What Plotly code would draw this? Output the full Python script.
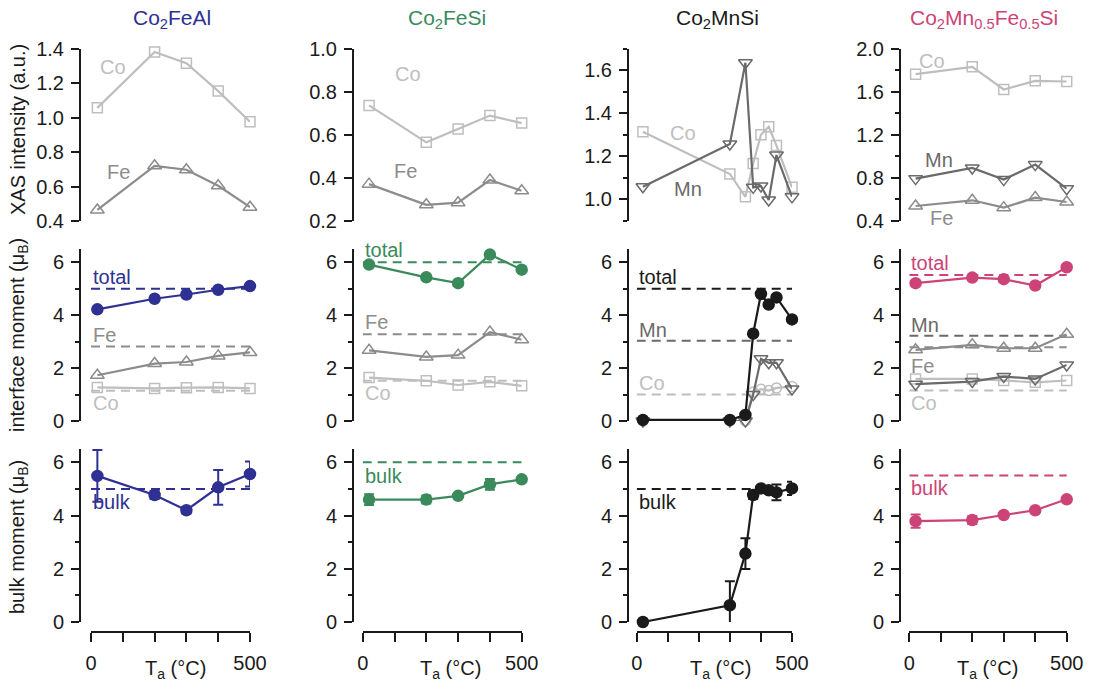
import plotly.graph_objects as go

W, H = 1096, 689

# ---------------- data ----------------
Ta5 = [20, 200, 300, 400, 500]
Ta8 = [20, 300, 350, 375, 400, 425, 450, 500]
ref_x = [0, 510]
x_tickvals = [0, 500]
x_ticktext = ["0", "500"]

# Co2FeAl
xas_co_1 = [1.056, 1.38, 1.315, 1.153, 0.975]
xas_fe_1 = [0.464, 0.72, 0.697, 0.604, 0.48]
tot_1 = [4.22, 4.62, 4.78, 4.96, 5.10]
fe_1 = [1.73, 2.17, 2.23, 2.46, 2.59]
co_1 = [1.27, 1.23, 1.26, 1.27, 1.23]
ref_tot_1, ref_fe_1, ref_co_1 = 5.0, 2.82, 1.14
bulk_1 = [5.49, 4.77, 4.20, 5.06, 5.56]
bulk_err_1 = [0.97, 0.15, 0.12, 0.65, 0.47]
ref_bulk_1 = 5.0

# Co2FeSi
xas_co_2 = [0.736, 0.565, 0.627, 0.689, 0.654]
xas_fe_2 = [0.371, 0.275, 0.285, 0.39, 0.34]
tot_2 = [5.91, 5.43, 5.21, 6.29, 5.72]
fe_2 = [2.67, 2.42, 2.49, 3.36, 3.07]
co_2 = [1.64, 1.52, 1.36, 1.48, 1.33]
ref_tot_2, ref_fe_2, ref_co_2 = 6.0, 3.28, 1.52
bulk_2 = [4.60, 4.60, 4.74, 5.17, 5.36]
bulk_err_2 = [0.2, 0.15, 0.05, 0.2, 0.05]
ref_bulk_2 = 6.0

# Co2MnSi
xas_co_3 = [1.314, 1.118, 1.012, 1.167, 1.30, 1.337, 1.25, 1.056]
xas_mn_3 = [1.059, 1.257, 1.634, 1.056, 1.062, 0.997, 1.206, 1.012]
tot_3 = [0.04, 0.04, 0.23, 3.30, 4.80, 4.40, 4.67, 3.84]
mn_3 = [0.0, 0.0, 0.0, 1.0, 2.35, 2.2, 2.2, 1.21]
co_3 = [0.0, 0.0, 0.0, 1.1, 1.2, 1.15, 1.25, 1.3]
ref_tot_3, ref_mn_3, ref_co_3 = 5.0, 3.03, 1.0
bulk_3 = [0.0, 0.63, 2.57, 4.77, 5.02, 4.95, 4.87, 5.02]
bulk_err_3 = [0.0, 0.9, 0.58, 0.15, 0.08, 0.1, 0.3, 0.25]
ref_bulk_3 = 5.0

# Co2Mn0.5Fe0.5Si
xas_co_4 = [1.762, 1.83, 1.62, 1.70, 1.694]
xas_mn_4 = [0.793, 0.892, 0.784, 0.923, 0.70]
xas_fe_4 = [0.539, 0.592, 0.524, 0.617, 0.576]
tot_4 = [5.21, 5.42, 5.36, 5.12, 5.81]
fe_4 = [2.69, 2.88, 2.75, 2.75, 3.28]
mn_4 = [1.39, 1.49, 1.68, 1.59, 2.12]
co_4 = [1.59, 1.59, 1.53, 1.46, 1.53]
ref_tot_4, ref_mn_4, ref_fe_4, ref_co_4 = 5.52, 3.22, 2.79, 1.15
bulk_4 = [3.79, 3.83, 4.02, 4.20, 4.61]
bulk_err_4 = [0.25, 0.15, 0.05, 0.05, 0.05]
ref_bulk_4 = 5.5

titles = ["Co<sub>2</sub>FeAl", "Co<sub>2</sub>FeSi", "Co<sub>2</sub>MnSi",
          "Co<sub>2</sub>Mn<sub>0.5</sub>Fe<sub>0.5</sub>Si"]

# ---------------- styles ----------------
BLUE, GREEN, BLACK, PINK = "#2E3192", "#3A8A5C", "#1A1A1A", "#CC4477"
col_colors = [BLUE, GREEN, BLACK, PINK]
CO_C, FE_C, MN_C = "#BEBEBE", "#8C8C8C", "#6A6A6A"
FONT = "Arial, Liberation Sans, Helvetica, sans-serif"
TXT = "#1A1A1A"


def px(x):
    return x / W


def py(y):
    return 1 - y / H


# column geometry (pixels): x-domain spans Ta 0..500, y-axis line position
col_x = [(91, 250), (362.7, 521.7), (636.7, 792), (909.3, 1066.7)]
col_yax = [80, 353, 628, 900]
row_y = [(48.5, 221), (249, 421), (449, 622)]
xaxis_line_y = 632

top_ranges = [(0.4, 1.4), (0.2, 1.0), (0.9, 1.7), (0.4, 2.0)]
top_ticks = [
    dict(tick0=0.4, dtick=0.2, minor=None),
    dict(tick0=0.2, dtick=0.2, minor=None),
    dict(tick0=1.0, dtick=0.2, minor=dict(tick0=0.9, dtick=0.2)),
    dict(tick0=0.4, dtick=0.4, minor=dict(tick0=0.4, dtick=0.2)),
]

fig = go.Figure()


def ax_id(row, col):
    k = row * 4 + col + 1
    return ("x" if k == 1 else f"x{k}"), ("y" if k == 1 else f"y{k}")


def line_trace(row, col, x, y, color, symbol, size, err=None):
    xa, ya = ax_id(row, col)
    marker = dict(symbol=symbol, size=size, color=color,
                  line=dict(color=color, width=1.5))
    kw = {}
    if err is not None:
        kw["error_y"] = dict(type="data", array=err, visible=True,
                             color=color, thickness=2, width=5)
    fig.add_trace(go.Scatter(x=x, y=y, mode="lines+markers", xaxis=xa, yaxis=ya,
                             line=dict(color=color, width=2.2), marker=marker,
                             cliponaxis=False, showlegend=False, hoverinfo="skip", **kw))


def ref_trace(row, col, val, color):
    xa, ya = ax_id(row, col)
    fig.add_trace(go.Scatter(x=ref_x, y=[val, val], mode="lines", xaxis=xa, yaxis=ya,
                             line=dict(color=color, width=2, dash="9px,6px"),
                             cliponaxis=False, showlegend=False, hoverinfo="skip"))


def label(row, col, x, y, text, color):
    xa, ya = ax_id(row, col)
    fig.add_annotation(x=x, y=y, xref=xa, yref=ya, text=text, showarrow=False,
                       xanchor="left", yanchor="middle",
                       font=dict(family=FONT, size=20, color=color))


# ---- column 1: Co2FeAl
line_trace(0, 0, Ta5, xas_co_1, CO_C, "square-open", 10)
line_trace(0, 0, Ta5, xas_fe_1, FE_C, "triangle-up-open", 12)
label(0, 0, 22, 1.29, "Co", CO_C)
label(0, 0, 44, 0.685, "Fe", FE_C)
ref_trace(1, 0, ref_tot_1, BLUE)
ref_trace(1, 0, ref_fe_1, FE_C)
ref_trace(1, 0, ref_co_1, CO_C)
line_trace(1, 0, Ta5, co_1, CO_C, "square-open", 10)
line_trace(1, 0, Ta5, fe_1, FE_C, "triangle-up-open", 12)
line_trace(1, 0, Ta5, tot_1, BLUE, "circle", 11)
label(1, 0, 0, 5.43, "total", BLUE)
label(1, 0, 0, 3.25, "Fe", FE_C)
label(1, 0, 0, 0.68, "Co", CO_C)
ref_trace(2, 0, ref_bulk_1, BLUE)
line_trace(2, 0, Ta5, bulk_1, BLUE, "circle", 11, err=bulk_err_1)
label(2, 0, 0, 4.5, "bulk", BLUE)

# ---- column 2: Co2FeSi
line_trace(0, 1, Ta5, xas_co_2, CO_C, "square-open", 10)
line_trace(0, 1, Ta5, xas_fe_2, FE_C, "triangle-up-open", 12)
label(0, 1, 95, 0.884, "Co", CO_C)
label(0, 1, 92, 0.433, "Fe", FE_C)
ref_trace(1, 1, ref_tot_2, GREEN)
ref_trace(1, 1, ref_fe_2, FE_C)
ref_trace(1, 1, ref_co_2, CO_C)
line_trace(1, 1, Ta5, co_2, CO_C, "square-open", 10)
line_trace(1, 1, Ta5, fe_2, FE_C, "triangle-up-open", 12)
line_trace(1, 1, Ta5, tot_2, GREEN, "circle", 11)
label(1, 1, 0, 6.45, "total", GREEN)
label(1, 1, 0, 3.74, "Fe", FE_C)
label(1, 1, 0, 1.06, "Co", CO_C)
ref_trace(2, 1, ref_bulk_2, GREEN)
line_trace(2, 1, Ta5, bulk_2, GREEN, "circle", 11, err=bulk_err_2)
label(2, 1, 0, 5.47, "bulk", GREEN)

# ---- column 3: Co2MnSi
line_trace(0, 2, Ta8, xas_co_3, CO_C, "square-open", 10)
line_trace(0, 2, Ta8, xas_mn_3, MN_C, "triangle-down-open", 12)
label(0, 2, 100, 1.307, "Co", CO_C)
label(0, 2, 114, 1.047, "Mn", MN_C)
ref_trace(1, 2, ref_tot_3, BLACK)
ref_trace(1, 2, ref_mn_3, MN_C)
ref_trace(1, 2, ref_co_3, CO_C)
line_trace(1, 2, Ta8, co_3, CO_C, "circle-open", 10)
line_trace(1, 2, Ta8, mn_3, MN_C, "triangle-down-open", 12)
line_trace(1, 2, Ta8, tot_3, BLACK, "circle", 11)
label(1, 2, 0, 5.43, "total", BLACK)
label(1, 2, 0, 3.43, "Mn", MN_C)
label(1, 2, 0, 1.43, "Co", CO_C)
ref_trace(2, 2, ref_bulk_3, BLACK)
line_trace(2, 2, Ta8, bulk_3, BLACK, "circle", 11, err=bulk_err_3)
label(2, 2, 0, 4.5, "bulk", BLACK)

# ---- column 4: Co2Mn0.5Fe0.5Si
line_trace(0, 3, Ta5, xas_co_4, CO_C, "square-open", 10)
line_trace(0, 3, Ta5, xas_mn_4, MN_C, "triangle-down-open", 12)
line_trace(0, 3, Ta5, xas_fe_4, FE_C, "triangle-up-open", 12)
label(0, 3, 24, 1.88, "Co", CO_C)
label(0, 3, 44, 0.964, "Mn", MN_C)
label(0, 3, 60, 0.43, "Fe", FE_C)
ref_trace(1, 3, ref_tot_4, PINK)
ref_trace(1, 3, ref_mn_4, MN_C)
ref_trace(1, 3, ref_fe_4, FE_C)
ref_trace(1, 3, ref_co_4, CO_C)
line_trace(1, 3, Ta5, co_4, CO_C, "square-open", 10)
line_trace(1, 3, Ta5, mn_4, MN_C, "triangle-down-open", 12)
line_trace(1, 3, Ta5, fe_4, FE_C, "triangle-up-open", 12)
line_trace(1, 3, Ta5, tot_4, PINK, "circle", 11)
label(1, 3, 0, 5.96, "total", PINK)
label(1, 3, 0, 3.62, "Mn", MN_C)
label(1, 3, 0, 2.07, "Fe", FE_C)
label(1, 3, 0, 0.68, "Co", CO_C)
ref_trace(2, 3, ref_bulk_4, PINK)
line_trace(2, 3, Ta5, bulk_4, PINK, "circle", 11, err=bulk_err_4)
label(2, 3, 0, 5.02, "bulk", PINK)

# ---------------- axes ----------------
tickfont = dict(family=FONT, size=20, color=TXT)
layout_axes = {}
for row in range(3):
    for col in range(4):
        k = row * 4 + col + 1
        xname = "xaxis" if k == 1 else f"xaxis{k}"
        yname = "yaxis" if k == 1 else f"yaxis{k}"
        x0, x1 = col_x[col]
        y0, y1 = row_y[row]
        xa, ya = ax_id(row, col)
        xd = dict(domain=[px(x0), px(x1)], range=[0, 500], showgrid=False,
                  zeroline=False, automargin=False)
        if row == 2:
            xd.update(anchor="free", position=py(xaxis_line_y), showline=True,
                      linewidth=2, linecolor=TXT, ticks="outside", ticklen=9,
                      tickwidth=2, tickcolor=TXT, tickmode="array",
                      tickvals=x_tickvals, ticktext=x_ticktext, tickfont=tickfont,
                      ticklabelstandoff=4,
                      minor=dict(tick0=0, dtick=100, ticks="outside", ticklen=9,
                                 tickwidth=2, tickcolor=TXT, showgrid=False))
        else:
            xd.update(anchor=ya, showline=False, ticks="", showticklabels=False)
        layout_axes[xname] = xd

        yd = dict(domain=[py(y1), py(y0)], anchor="free", position=px(col_yax[col]),
                  showgrid=False, zeroline=False, showline=True, linewidth=2,
                  linecolor=TXT, ticks="outside", ticklen=8, tickwidth=2,
                  tickcolor=TXT, tickfont=tickfont, ticklabelstandoff=3,
                  automargin=False)
        if row == 0:
            r = top_ranges[col]
            t = top_ticks[col]
            yd.update(range=list(r), tick0=t["tick0"], dtick=t["dtick"],
                      tickformat=".1f")
            if t["minor"] is not None:
                yd["minor"] = dict(tick0=t["minor"]["tick0"], dtick=t["minor"]["dtick"],
                                   ticks="outside", ticklen=4, tickwidth=2,
                                   tickcolor=TXT, showgrid=False)
        else:
            yd.update(range=[0, 6.5], tick0=0, dtick=2,
                      minor=dict(tick0=0, dtick=1, ticks="outside", ticklen=4,
                                 tickwidth=2, tickcolor=TXT, showgrid=False))
        layout_axes[yname] = yd

fig.update_layout(**layout_axes)

# ---------------- text ----------------
title_x = [172, 447, 717, 984]
for col in range(4):
    fig.add_annotation(x=px(title_x[col]), y=py(19), xref="paper", yref="paper",
                       text=titles[col], showarrow=False, xanchor="center",
                       yanchor="middle",
                       font=dict(family=FONT, size=21, color=col_colors[col]))
    fig.add_annotation(x=px(title_x[col] + 3), y=py(669), xref="paper", yref="paper",
                       text="T<sub>a</sub> (°C)", showarrow=False, xanchor="center",
                       yanchor="middle", font=dict(family=FONT, size=20, color=TXT))

ytitles = [("XAS intensity (a.u.)", 130), ("interface moment (μ<sub>B</sub>)", 335),
           ("bulk moment (μ<sub>B</sub>)", 537)]
for text, yc in ytitles:
    fig.add_annotation(x=px(18), y=py(yc), xref="paper", yref="paper", text=text,
                       textangle=-90, showarrow=False, xanchor="center", yanchor="middle",
                       font=dict(family=FONT, size=20, color=TXT))

fig.update_layout(width=W, height=H, autosize=False,
                  margin=dict(l=0, r=0, t=0, b=0, pad=0, autoexpand=False),
                  paper_bgcolor="white", plot_bgcolor="white",
                  showlegend=False, font=dict(family=FONT, color=TXT))

fig.write_html("out.html")
